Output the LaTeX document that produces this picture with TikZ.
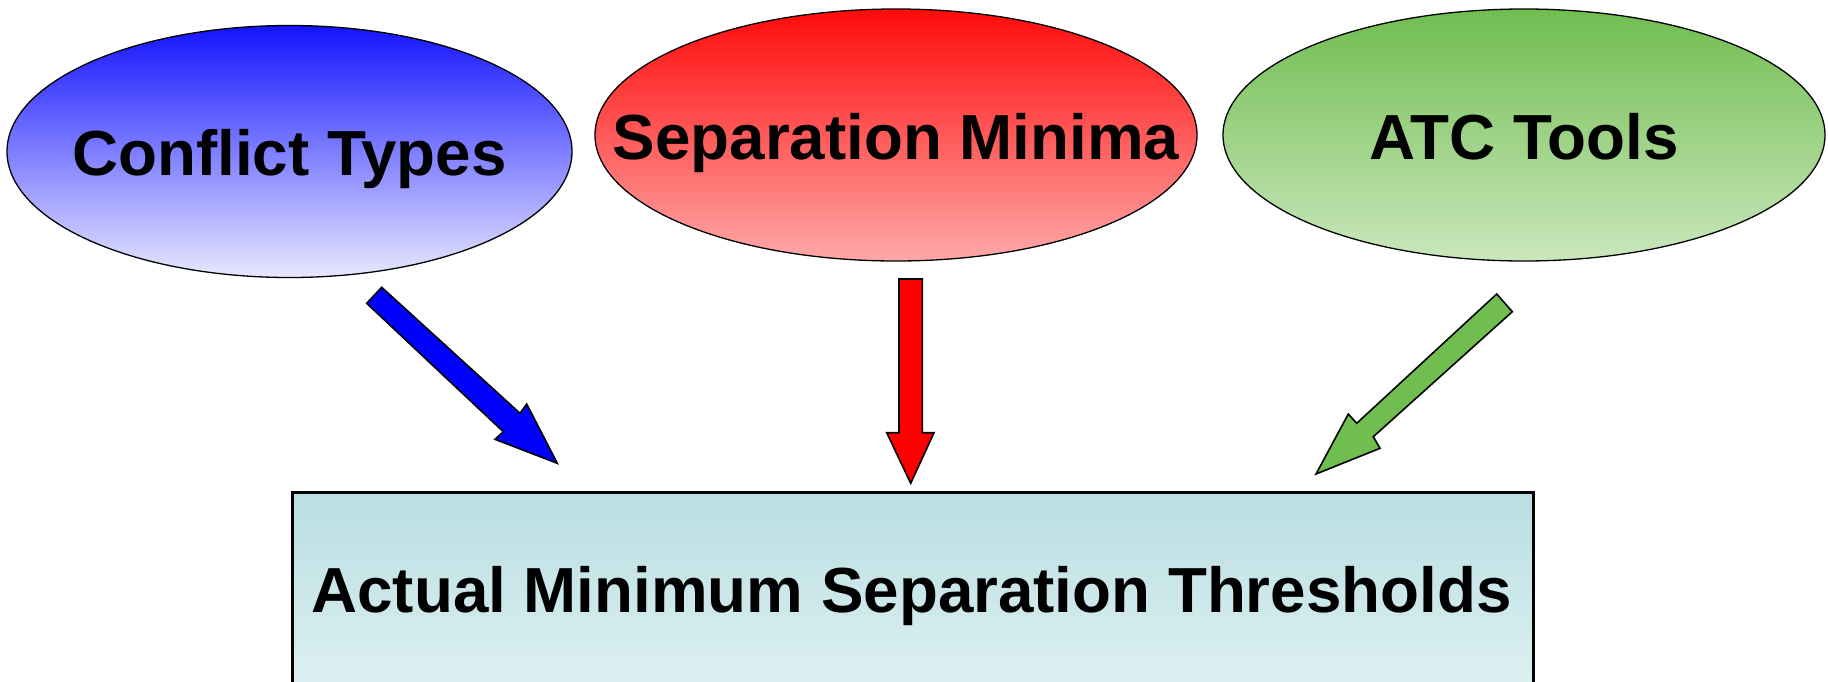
\documentclass[tikz,border=0pt]{standalone}
\usepackage{fontspec}
\setmainfont{Liberation Sans}
\usetikzlibrary{shapes.geometric}
\definecolor{bluetop}{RGB}{20,20,255}
\definecolor{bluebot}{RGB}{232,232,255}
\definecolor{redtop}{RGB}{255,10,10}
\definecolor{redbot}{RGB}{255,168,168}
\definecolor{greentop}{RGB}{112,189,80}
\definecolor{greenbot}{RGB}{202,231,188}
\definecolor{boxtop}{RGB}{185,222,226}
\definecolor{boxbot}{RGB}{229,244,244}
\definecolor{arrblue}{RGB}{0,0,255}
\definecolor{arrred}{RGB}{255,0,0}
\definecolor{arrgreen}{RGB}{112,189,80}
\tikzset{
  oval/.style={ellipse, draw=black, line width=1.3pt, inner sep=0pt,
    minimum width=#1, minimum height=252pt},
  lbl/.style={anchor=base, font=\bfseries\fontsize{63.7pt}{70pt}\selectfont, inner sep=0pt},
  blockarrow/.style={draw=black, line width=1.6pt, line join=miter}
}
\begin{document}
\begin{tikzpicture}[x=1pt,y=-1pt]
\clip (0,0) rectangle (1828,681);
\fill[white] (0,0) rectangle (1828,681);
% ellipses
\node[oval=565pt, top color=bluetop, bottom color=bluebot] (e1) at (289.5,151.5) {};
\node[oval=602pt, top color=redtop, bottom color=redbot] (e2) at (896,135) {};
\node[oval=602pt, top color=greentop, bottom color=greenbot] (e3) at (1524,135) {};
\node[lbl] (t1) at ([yshift=-23.5pt]e1.center) {Conflict Types};
\node[lbl] (t2) at ([yshift=-24.5pt]e2.center) {Separation Minima};
\node[lbl] (t3) at ([yshift=-24.5pt]e3.center) {ATC Tools};
% box
\node[draw=black, line width=2.6pt, top color=boxtop, bottom color=boxbot,
  minimum width=1241pt, minimum height=240pt, inner sep=0pt, anchor=north west] (box) at (291,491) {};
\node[lbl] (t4) at (911.5,612) {Actual Minimum Separation Thresholds};
% block arrows
\draw[blockarrow, fill=arrblue] (366.7,303.3) -- (381.7,287.3) -- (520,413.3) -- (526.7,404)
  -- (557.3,463.3) -- (495,439.3) -- (503.3,431.7) -- cycle;
\draw[blockarrow, fill=arrred] (899,279) -- (922.3,279) -- (922.3,432.7) -- (934,432.7)
  -- (910.7,483.3) -- (886.7,432.7) -- (899,432.7) -- cycle;
\draw[blockarrow, fill=arrgreen] (1496.7,294) -- (1512.3,311.7) -- (1373.3,436.7) -- (1380,448.3)
  -- (1316,474) -- (1348.3,414) -- (1356.7,423.3) -- cycle;
\end{tikzpicture}
\end{document}
